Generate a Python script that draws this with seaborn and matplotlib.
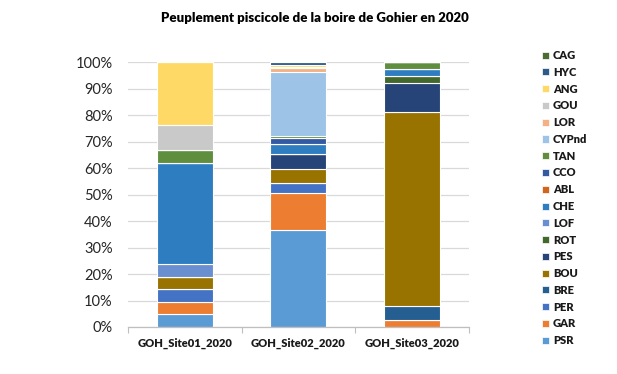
import matplotlib
matplotlib.use("Agg")
import matplotlib.pyplot as plt
from matplotlib.patches import Patch
from matplotlib.ticker import PercentFormatter, FixedLocator
import seaborn as sns
import pandas as pd

# Species codes, listed top of stack first (legend order)
species = ["CAG", "HYC", "ANG", "GOU", "LOR", "CYPnd", "TAN", "CCO", "ABL",
           "CHE", "LOF", "ROT", "PES", "BOU", "BRE", "PER", "GAR", "PSR"]
colors = ["#4A6B32", "#2C5B8A", "#FFD966", "#C9C9C9", "#F4B183", "#9DC3E6",
          "#5E8E3E", "#335AA1", "#D0661E", "#2F7DC1", "#6A8FD0", "#43682B",
          "#264478", "#997300", "#255E91", "#4472C4", "#ED7D31", "#5B9BD5"]

sites = ["GOH_Site01_2020", "GOH_Site02_2020", "GOH_Site03_2020"]

# Individuals caught per species at each site
site01 = [0, 0, 5, 2, 0, 0, 1, 0, 0, 8, 1, 0, 0, 1, 0, 1, 1, 1]
site02 = [0, 2, 1, 1, 2, 40, 1, 4, 0, 6, 0, 0, 9, 9, 0, 6, 23, 60]
site03 = [0, 0, 0, 0, 0, 0, 1, 0, 0, 1, 0, 1, 4, 27, 2, 0, 1, 0]

rows = []
for site, counts in zip(sites, [site01, site02, site03]):
    for sp, n in zip(species, counts):
        rows.append({"site": site, "espece": sp, "n": n})
df = pd.DataFrame(rows)
df["site"] = pd.Categorical(df["site"], categories=sites, ordered=True)

font = "Lato"
plt.rcParams["font.family"] = [font, "DejaVu Sans"]

fig = plt.figure(figsize=(6.17, 3.74), dpi=100)
ax = fig.add_axes([128 / 617, 1 - 327 / 374, 340.5 / 617, 265 / 374])

sns.histplot(data=df, x="site", weights="n", hue="espece", hue_order=species,
             palette=colors, multiple="fill", discrete=True, shrink=0.49,
             edgecolor="white", linewidth=0.8, alpha=1, legend=False, ax=ax)

ax.set_xlim(-0.5, 2.5)
ax.set_ylim(0, 1)
ax.yaxis.set_major_locator(FixedLocator([i / 10 for i in range(11)]))
ax.yaxis.set_major_formatter(PercentFormatter(1.0, decimals=0))
ax.grid(axis="y", color="#D9D9D9", linewidth=0.9)
ax.grid(axis="x", visible=False)
ax.set_axisbelow(True)
for side in ["top", "right", "left"]:
    ax.spines[side].set_visible(False)
ax.spines["bottom"].set_color("#BFBFBF")
ax.spines["bottom"].set_linewidth(0.9)

ax.set_xticks(range(len(sites)))
ax.set_xticklabels(sites, fontsize=8, fontweight="heavy", color="#1A1A1A")
ax.set_xticks([-0.5, 0.5, 1.5, 2.5], minor=True)
ax.tick_params(axis="x", which="major", length=0, pad=8)
ax.tick_params(axis="x", which="minor", length=4, color="#BFBFBF", width=0.8)
ax.tick_params(axis="y", length=0, pad=11, labelsize=10.5, labelcolor="#262626")
ax.set_xlabel("")
ax.set_ylabel("")

fig.text(315 / 617, 1 - 18 / 374, "Peuplement piscicole de la boire de Gohier en 2020",
         ha="center", va="center", fontsize=9.5, fontweight="heavy", color="#000000")

handles = [Patch(facecolor=c, edgecolor="white", linewidth=0.5) for c in colors]
fig.legend(handles, species, loc="upper left", bbox_to_anchor=(542 / 617, 1 - 50 / 374),
           frameon=False, borderpad=0, borderaxespad=0, handlelength=0.6,
           handleheight=0.6, handletextpad=0.4, labelspacing=0.52,
           prop={"family": font, "weight": "heavy", "size": 8}, labelcolor="#1A1A1A")

fig.savefig("out.png", dpi=100, facecolor="white")
